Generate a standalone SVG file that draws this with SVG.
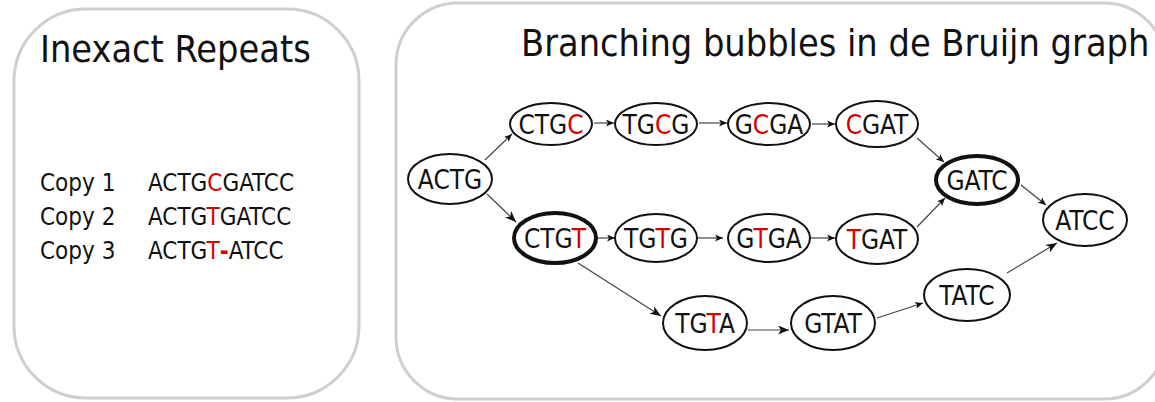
<svg xmlns="http://www.w3.org/2000/svg" width="1155" height="402" viewBox="0 0 1155 402">
<defs>
<style>
.panel{fill:#fff;stroke:#cfcfcf;stroke-width:3}
.title{font-family:"DejaVu Sans Condensed","DejaVu Sans",sans-serif;font-size:37.5px;fill:#111}
.lbl{font-family:"DejaVu Sans Condensed","DejaVu Sans",sans-serif;font-size:24px;fill:#111}
.node ellipse{fill:#fff;stroke:#111;stroke-width:2}
.node.bold ellipse{stroke-width:4}
.node text{font-family:"DejaVu Sans Condensed","DejaVu Sans",sans-serif;font-size:26px;fill:#111;text-anchor:middle}
.r{fill:#d40000}
.edge{stroke:#444;stroke-width:1.2;fill:none}
.sm{marker-end:url(#ah)}
.lg{marker-end:url(#ahl)}
</style>
<marker id="ah" markerUnits="userSpaceOnUse" markerWidth="9" markerHeight="8" refX="8" refY="3.5" orient="auto">
<path d="M0,0 L8,3.5 L0,7 L2,3.5 z" fill="#111"/>
</marker>
<marker id="ahl" markerUnits="userSpaceOnUse" markerWidth="12" markerHeight="10" refX="11" refY="4.5" orient="auto">
<path d="M0,0 L11,4.5 L0,9 L3,4.5 z" fill="#111"/>
</marker>
</defs>
<rect class="panel" x="14" y="9" width="345" height="389" rx="72" ry="72"/>
<rect class="panel" x="396" y="3" width="770" height="396" rx="62" ry="62"/>
<text class="title" x="40" y="62">Inexact Repeats</text>
<text class="title" x="521" y="56">Branching bubbles in de Bruijn graph</text>
<g id="copies">
<text class="lbl" x="40" y="191">Copy 1</text>
<text class="lbl" x="40" y="225">Copy 2</text>
<text class="lbl" x="40" y="259">Copy 3</text>
<text class="lbl" x="148" y="191">ACTG<tspan class="r">C</tspan>GATCC</text>
<text class="lbl" x="148" y="225">ACTG<tspan class="r">T</tspan>GATCC</text>
<text class="lbl" x="148" y="259">ACTG<tspan class="r">T</tspan><tspan class="r" font-weight="bold">-</tspan>ATCC</text>
</g>
<g id="connectors">
<line class="edge sm" x1="485" y1="160" x2="512" y2="134"/>
<line class="edge lg" x1="487" y1="194" x2="516" y2="222"/>
<line class="edge sm" x1="594" y1="123" x2="614" y2="123"/>
<line class="edge sm" x1="699" y1="123" x2="727" y2="123"/>
<line class="edge sm" x1="812" y1="124" x2="835" y2="124"/>
<line class="edge sm" x1="917" y1="138" x2="944" y2="162"/>
<line class="edge sm" x1="597" y1="238" x2="615" y2="238"/>
<line class="edge sm" x1="698" y1="238" x2="723" y2="238"/>
<line class="edge sm" x1="810" y1="238" x2="835" y2="238"/>
<line class="edge sm" x1="917" y1="227" x2="945" y2="198"/>
<line class="edge sm" x1="1021" y1="185" x2="1046" y2="205"/>
<line class="edge lg" x1="578" y1="263" x2="661" y2="316"/>
<line class="edge lg" x1="748" y1="330" x2="789" y2="330"/>
<line class="edge sm" x1="877" y1="318" x2="923" y2="303"/>
<line class="edge lg" x1="1007" y1="273" x2="1057" y2="243"/>
</g>
<g id="n-ACTG" class="node"><ellipse cx="450" cy="179" rx="42" ry="25"/><text x="450" y="188.5">ACTG</text></g>
<g id="n-CTGC" class="node"><ellipse cx="551" cy="124" rx="41" ry="21"/><text x="551" y="133.5">CTG<tspan class="r">C</tspan></text></g>
<g id="n-TGCG" class="node"><ellipse cx="656" cy="124" rx="41" ry="21"/><text x="656" y="133.5">TG<tspan class="r">C</tspan>G</text></g>
<g id="n-GCGA" class="node"><ellipse cx="769" cy="124" rx="41" ry="21"/><text x="769" y="133.5">G<tspan class="r">C</tspan>GA</text></g>
<g id="n-CGAT" class="node"><ellipse cx="877" cy="124" rx="41" ry="23"/><text x="877" y="133.5"><tspan class="r">C</tspan>GAT</text></g>
<g id="n-CTGT" class="node bold"><ellipse cx="555" cy="238" rx="41" ry="25"/><text x="555" y="247.5">CTG<tspan class="r">T</tspan></text></g>
<g id="n-TGTG" class="node"><ellipse cx="656" cy="238" rx="41" ry="24"/><text x="656" y="247.5">TG<tspan class="r">T</tspan>G</text></g>
<g id="n-GTGA" class="node"><ellipse cx="769" cy="238" rx="41" ry="24"/><text x="769" y="247.5">G<tspan class="r">T</tspan>GA</text></g>
<g id="n-TGAT" class="node"><ellipse cx="877" cy="239" rx="41" ry="25"/><text x="877" y="248.5"><tspan class="r">T</tspan>GAT</text></g>
<g id="n-GATC" class="node bold"><ellipse cx="977" cy="180" rx="41" ry="24"/><text x="977" y="189.5">GATC</text></g>
<g id="n-ATCC" class="node"><ellipse cx="1085" cy="220" rx="42" ry="26"/><text x="1085" y="229.5">ATCC</text></g>
<g id="n-TGTA" class="node"><ellipse cx="705" cy="323" rx="42" ry="27"/><text x="705" y="332.5">TG<tspan class="r">T</tspan>A</text></g>
<g id="n-GTAT" class="node"><ellipse cx="833" cy="323" rx="42" ry="27"/><text x="833" y="332.5">GTAT</text></g>
<g id="n-TATC" class="node"><ellipse cx="967" cy="295" rx="43" ry="26"/><text x="967" y="304.5">TATC</text></g>
</svg>
